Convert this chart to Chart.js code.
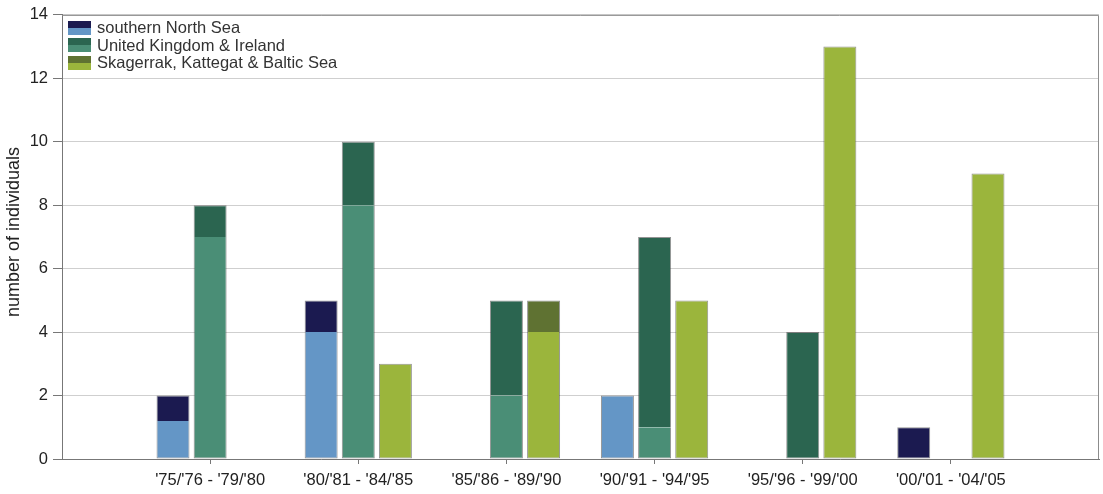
<!DOCTYPE html>
<html>
<head>
<meta charset="utf-8">
<script src="https://cdn.jsdelivr.net/npm/chart.js@4.4.1/dist/chart.umd.min.js"></script>
<style>
  html, body { margin: 0; padding: 0; background: #fff; }
  #wrap { position: relative; width: 1103px; height: 494px; }
  #legend { position: absolute; left: 68px; top: 19px; font: 16.5px "Liberation Sans", Arial, sans-serif; color: #333; }
  .row { display: flex; align-items: center; height: 17.5px; }
  .sw { width: 23px; height: 14px; margin-right: 6px; box-sizing: border-box; }
</style>
</head>
<body>
<div id="wrap">
  <canvas id="chart" width="1103" height="494"></canvas>
  <div id="legend"></div>
</div>
<script>
const categories = ["'75/'76 - '79/'80", "'80/'81 - '84/'85", "'85/'86 - '89/'90",
                    "'90/'91 - '94/'95", "'95/'96 - '99/'00", "'00/'01 - '04/'05"];

// each region is a light lower part and a dark upper part
const snsLower = [1.2, 4, 0, 2, 0, 0];
const snsUpper = [0.8, 1, 0, 0, 0, 1];
const ukLower  = [7, 8, 2, 1, 0, 0];
const ukUpper  = [1, 2, 3, 6, 4, 0];
const skLower  = [0, 3, 4, 5, 13, 9];
const skUpper  = [0, 0, 1, 0, 0, 0];

const regions = ["southern North Sea", "United Kingdom & Ireland", "Skagerrak, Kattegat & Baltic Sea"];
const yMin = 0, yMax = 14, yStep = 2;

const COLORS = {
  sns: { dark: "#1b1a50", light: "#6496c6" },
  uk:  { dark: "#2b6550", light: "#4a8e76" },
  sk:  { dark: "#5f7232", light: "#9bb53c" }
};
const EDGE = "rgba(60,60,60,0.55)";
const FONT = "'Liberation Sans', Arial, sans-serif";

function $(id) { return document.getElementById(id); }

// empty slot on each side of the six periods
function pad(arr) { return [null, ...arr.map(v => v || null), null]; }

function seg(label, stack, data, color, other, lower) {
  return {
    label, stack,
    data: pad(data),
    backgroundColor: color,
    borderColor: EDGE,
    borderSkipped: false,
    borderWidth: ctx => {
      const o = other[ctx.dataIndex - 1];
      return lower
        ? { top: o ? 0 : 1, left: 1, right: 1, bottom: 1 }
        : { top: 1, left: 1, right: 1, bottom: o ? 0 : 1 };
    },
    categoryPercentage: 0.752,
    barPercentage: 0.888
  };
}

const frame = {
  id: "frame",
  afterDatasetsDraw(chart) {
    const { ctx, chartArea: a } = chart;
    ctx.save();
    ctx.strokeStyle = "#8c8c8c";
    ctx.lineWidth = 1;
    ctx.beginPath();
    ctx.moveTo(a.left, a.top + 0.5);
    ctx.lineTo(a.right - 0.5, a.top + 0.5);
    ctx.lineTo(a.right - 0.5, a.bottom);
    ctx.stroke();
    ctx.restore();
  }
};

new Chart($("chart").getContext("2d"), {
  type: "bar",
  data: {
    labels: ["", ...categories, ""],
    datasets: [
      seg(regions[0], "sns", snsLower, COLORS.sns.light, snsUpper, true),
      seg(regions[0], "sns", snsUpper, COLORS.sns.dark, snsLower, false),
      seg(regions[1], "uk", ukLower, COLORS.uk.light, ukUpper, true),
      seg(regions[1], "uk", ukUpper, COLORS.uk.dark, ukLower, false),
      seg(regions[2], "sk", skLower, COLORS.sk.light, skUpper, true),
      seg(regions[2], "sk", skUpper, COLORS.sk.dark, skLower, false)
    ]
  },
  options: {
    responsive: false,
    animation: false,
    layout: { padding: { top: 13, right: 4, left: 0, bottom: 0 } },
    plugins: { legend: { display: false }, tooltip: { enabled: false } },
    scales: {
      x: {
        stacked: true,
        offset: false,
        afterFit: s => { s.height = 35; s.paddingLeft = 0; s.paddingRight = 0; },
        border: { color: "#777" },
        grid: {
          offset: false,
          drawOnChartArea: false,
          drawTicks: true,
          tickLength: 5,
          tickColor: ctx => (ctx.index === 0 || ctx.index === categories.length + 1) ? "rgba(0,0,0,0)" : "#777"
        },
        ticks: { autoSkip: false, maxRotation: 0, padding: 7, color: "#222", font: { family: FONT, size: 16.5 } }
      },
      y: {
        stacked: true,
        min: yMin, max: yMax,
        afterFit: s => { s.width = 62; },
        border: { color: "#777" },
        grid: { color: "#cfcfcf", tickColor: "#777", tickLength: 9 },
        ticks: { stepSize: yStep, padding: 5, color: "#222", font: { family: FONT, size: 16.5 } },
        title: {
          display: true,
          text: "  number of individuals",
          color: "#222",
          font: { family: FONT, size: 18 },
          padding: { top: 3, bottom: 0 }
        }
      }
    }
  },
  plugins: [frame]
});

// legend: dark over light swatch per region
const keys = ["sns", "uk", "sk"];
const box = $("legend");
regions.forEach((name, i) => {
  const c = COLORS[keys[i]];
  const row = document.createElement("div");
  row.className = "row";
  const sw = document.createElement("div");
  sw.className = "sw";
  sw.style.background = `linear-gradient(to bottom, ${c.dark} 50%, ${c.light} 50%)`;
  const t = document.createElement("span");
  t.textContent = name;
  row.appendChild(sw);
  row.appendChild(t);
  box.appendChild(row);
});
</script>
</body>
</html>
